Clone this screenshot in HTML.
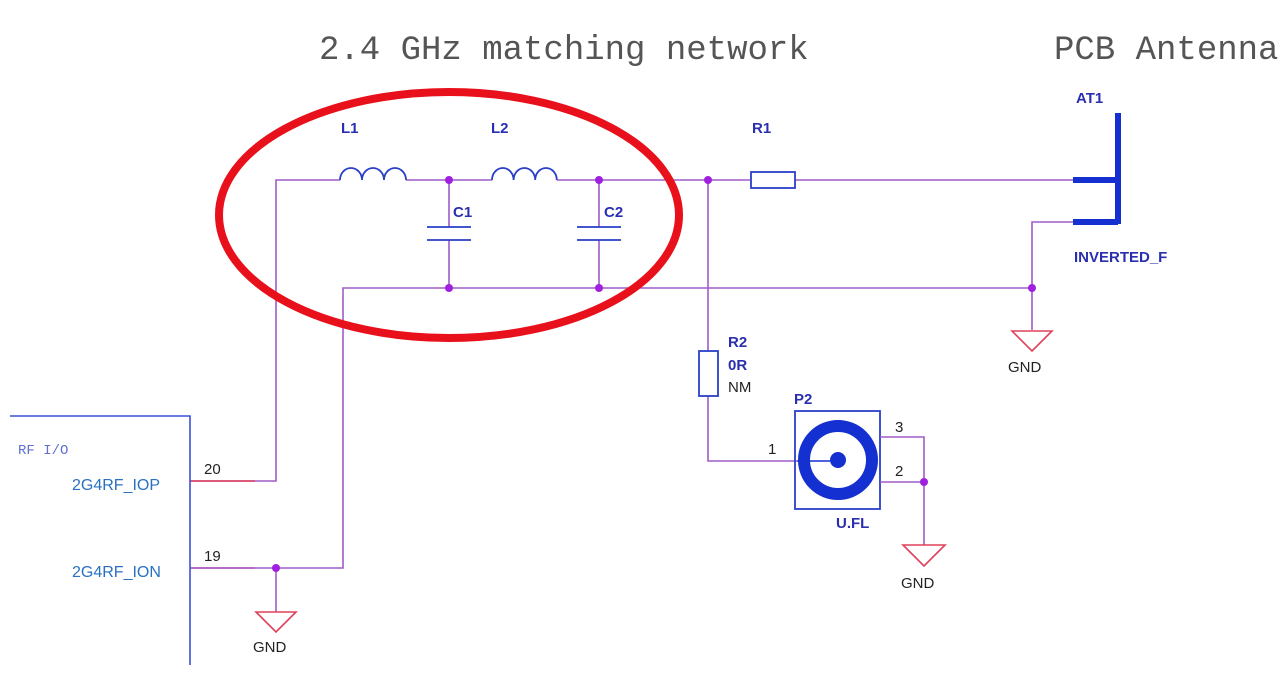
<!DOCTYPE html>
<html><head><meta charset="utf-8"><style>
html,body{margin:0;padding:0;background:#fff;width:1280px;height:684px;overflow:hidden}
svg{display:block}
.w{stroke:#a05cc8;stroke-width:1.6;fill:none}
.r{stroke:#e0405a;stroke-width:1.6;fill:none}
.b{stroke:#2a3fc8;stroke-width:1.8;fill:none}
.lb{font-family:"Liberation Sans",sans-serif;font-weight:bold;font-size:15px;fill:#2a2fb0}
.lk{font-family:"Liberation Sans",sans-serif;font-size:15px;fill:#222}
.lp{font-family:"Liberation Sans",sans-serif;font-size:16px;fill:#2a70c0}
.t{font-family:"Liberation Mono",monospace;font-size:34px;fill:#555}
</style></head><body>
<svg width="1280" height="684" viewBox="0 0 1280 684">
<text class="t" x="319" y="59">2.4 GHz matching network</text>
<text class="t" x="1054" y="59">PCB Antenna</text>

<path class="w" d="M190 481 H276 V180 H340 M406 180 H492 M557 180 H750 M795 180 H1073"/>
<path class="r" d="M190 481 H255 M190 568 H255"/>
<path class="b" d="M340 180 a11 12 0 0 1 22 0 a11 12 0 0 1 22 0 a11 12 0 0 1 22 0"/>
<path class="b" d="M492 180 a10.8 12 0 0 1 21.6 0 a10.8 12 0 0 1 21.6 0 a10.8 12 0 0 1 21.6 0"/>
<path class="w" d="M449 180 V227 M449 240 V288 M599 180 V227 M599 240 V288"/>
<path class="b" d="M427 227 H471 M427 240 H471 M577 227 H621 M577 240 H621"/>
<path class="w" d="M190 568 H343 V288 H1032 V222 H1073 M276 568 V612 M1032 288 V330"/>
<rect x="751" y="172" width="44" height="16" class="b"/>
<path class="w" d="M708 180 V351 M708 396 V461 H797"/>
<rect x="699" y="351" width="19" height="45" class="b"/>
<rect x="795" y="411" width="85" height="98" class="b"/>
<circle cx="838" cy="460" r="34" fill="none" stroke="#1530d0" stroke-width="12"/>
<circle cx="838" cy="460" r="8" fill="#1530d0"/>
<line x1="797" y1="461" x2="830" y2="461" stroke="#1530d0" stroke-width="1.6"/>
<path class="w" d="M880 437 H924 V545 M880 482 H924"/>
<path d="M1118 113 V224 M1073 180 H1118 M1073 222 H1118" stroke="#1530d0" stroke-width="6" fill="none"/>
<path class="r" d="M256 612 H296 L276 632 Z M1012 331 H1052 L1032 351 Z M903 545 H945 L924 566 Z"/>
<g fill="#a020e0">
<circle cx="449" cy="180" r="4"/><circle cx="599" cy="180" r="4"/><circle cx="708" cy="180" r="4"/>
<circle cx="449" cy="288" r="4"/><circle cx="599" cy="288" r="4"/><circle cx="1032" cy="288" r="4"/>
<circle cx="276" cy="568" r="4"/><circle cx="924" cy="482" r="4"/>
</g>
<path d="M10 416 H190 V665" stroke="#3a50d8" stroke-width="1.6" fill="none"/>
<text x="18" y="454" font-family="Liberation Mono,monospace" font-size="14" fill="#6070d0">RF I/O</text>
<text class="lp" x="72" y="490">2G4RF_IOP</text>
<text class="lp" x="72" y="577">2G4RF_ION</text>
<text class="lk" x="204" y="474">20</text>
<text class="lk" x="204" y="561">19</text>
<text class="lb" x="341" y="133">L1</text>
<text class="lb" x="491" y="133">L2</text>
<text class="lb" x="453" y="217">C1</text>
<text class="lb" x="604" y="217">C2</text>
<text class="lb" x="752" y="133">R1</text>
<text class="lb" x="728" y="347">R2</text>
<text class="lb" x="728" y="370">0R</text>
<text class="lk" x="728" y="392">NM</text>
<text class="lb" x="794" y="404">P2</text>
<text class="lb" x="836" y="528">U.FL</text>
<text class="lk" x="768" y="454">1</text>
<text class="lk" x="895" y="432">3</text>
<text class="lk" x="895" y="476">2</text>
<text class="lb" x="1076" y="103">AT1</text>
<text class="lb" x="1074" y="262">INVERTED_F</text>
<text class="lk" x="253" y="652">GND</text>
<text class="lk" x="1008" y="372">GND</text>
<text class="lk" x="901" y="588">GND</text>
<ellipse cx="449" cy="215" rx="230" ry="123" fill="none" stroke="#e8101a" stroke-width="8"/>
</svg>
</body></html>
